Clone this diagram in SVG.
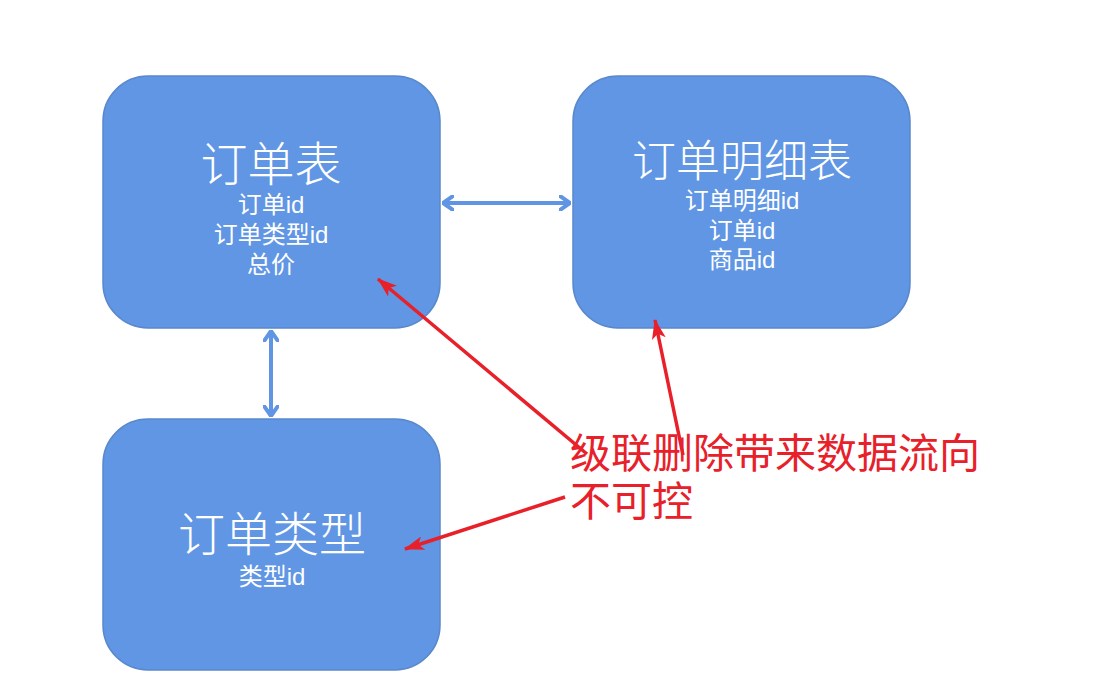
<svg xmlns="http://www.w3.org/2000/svg" width="1099" height="690" viewBox="0 0 1099 690">
<defs>
<style>
.box{fill:#6096E4;stroke:#5A88CC;stroke-width:1.5}
.t{font-family:"Liberation Sans","Noto Sans CJK SC",sans-serif;fill:#FFFFFF;text-anchor:middle}
.big{font-size:47px;font-weight:300}
.mid{font-size:44px;font-weight:300}
.small{font-size:24px}
.blue{stroke:#5F95E3;stroke-width:4;fill:none}
.red{stroke:#E8202A;stroke-width:3.5;fill:none}
.note{font-family:"Liberation Sans","Noto Sans CJK SC",sans-serif;font-size:41px;fill:#E8202A}
</style>
<marker id="chev" viewBox="0 0 12 16" refX="11" refY="8" markerWidth="12" markerHeight="16" markerUnits="userSpaceOnUse" orient="auto-start-reverse">
<path d="M1,1 L11,8 L1,15" fill="none" stroke="#5F95E3" stroke-width="4" stroke-linecap="round" stroke-linejoin="round"/>
</marker>
<marker id="redhead" viewBox="0 0 20 14" refX="19" refY="7" markerWidth="20" markerHeight="14" markerUnits="userSpaceOnUse" orient="auto">
<path d="M0,0 L20,7 L0,14 L5,7 Z" fill="#E8202A"/>
</marker>
</defs>
<rect width="1099" height="690" fill="#FFFFFF"/>
<g id="node-order">
<rect class="box" x="103" y="76" width="337" height="252" rx="45" ry="45"/>
<text class="t big" x="271" y="181">订单表</text>
<text class="t small" x="271" y="213">订单id</text>
<text class="t small" x="271" y="243">订单类型id</text>
<text class="t small" x="271" y="273">总价</text>
</g>
<g id="node-detail">
<rect class="box" x="573" y="76" width="337" height="252" rx="45" ry="45"/>
<text class="t mid" x="742" y="177">订单明细表</text>
<text class="t small" x="742" y="209">订单明细id</text>
<text class="t small" x="742" y="239">订单id</text>
<text class="t small" x="742" y="268">商品id</text>
</g>
<g id="node-type">
<rect class="box" x="103" y="419" width="337" height="251" rx="45" ry="45"/>
<text class="t big" x="272" y="551">订单类型</text>
<text class="t small" x="272" y="585">类型id</text>
</g>
<g id="connectors">
<line class="blue" x1="443" y1="203" x2="570" y2="203" marker-start="url(#chev)" marker-end="url(#chev)"/>
<line class="blue" x1="271" y1="331" x2="271" y2="416" marker-start="url(#chev)" marker-end="url(#chev)"/>
<line class="red" x1="587" y1="454" x2="378" y2="279" marker-end="url(#redhead)"/>
<line class="red" x1="683" y1="455" x2="655" y2="320" marker-end="url(#redhead)"/>
<line class="red" x1="565" y1="497" x2="405" y2="549" marker-end="url(#redhead)"/>
</g>
<g id="note">
<text class="note" x="570" y="468">级联删除带来数据流向</text>
<text class="note" x="570" y="516">不可控</text>
</g>
</svg>
